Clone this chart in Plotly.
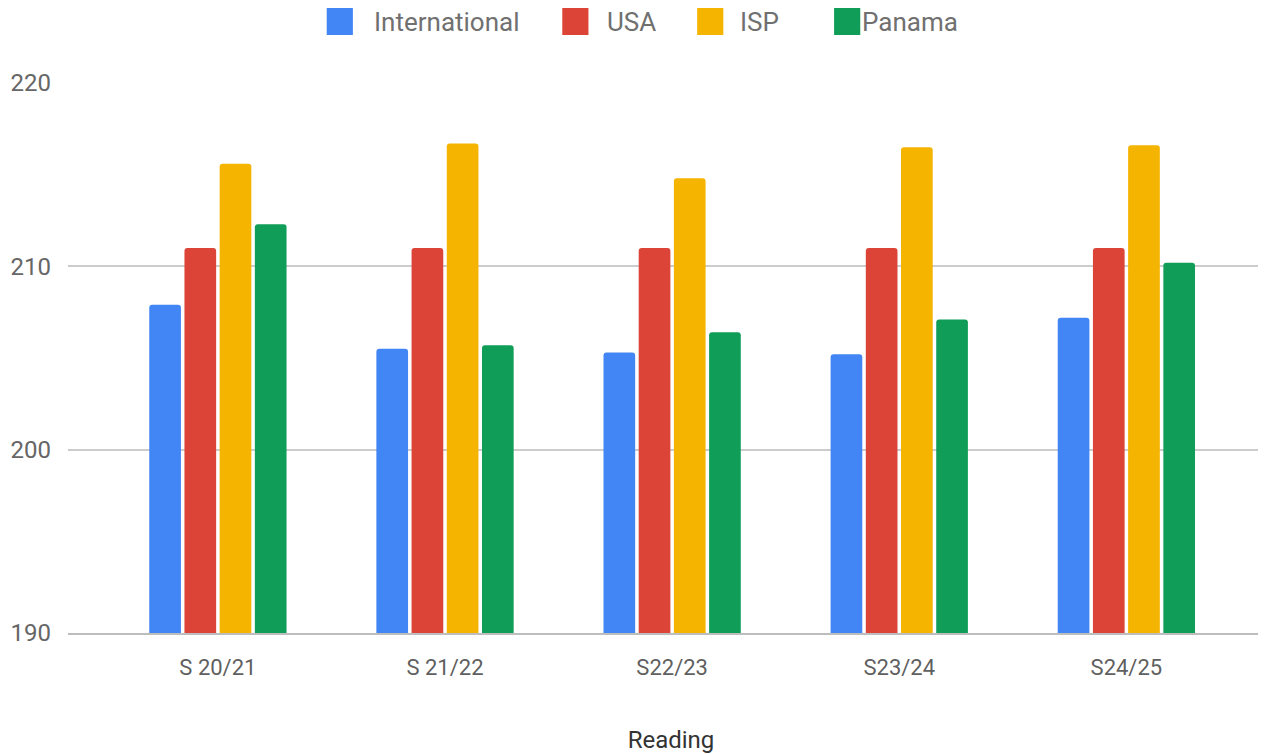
import plotly.graph_objects as go

categories = ["S 20/21", "S 21/22", "S22/23", "S23/24", "S24/25"]
international = [207.9, 205.5, 205.3, 205.2, 207.2]
usa = [211.0, 211.0, 211.0, 211.0, 211.0]
isp = [215.6, 216.7, 214.8, 216.5, 216.6]
panama = [212.3, 205.7, 206.4, 207.1, 210.2]

series_names = ["International", "USA", "ISP", "Panama"]
series_values = [international, usa, isp, panama]
series_colors = ["#4285F4", "#DB4437", "#F4B400", "#0F9D58"]

fig = go.Figure()
for name, vals, color in zip(series_names, series_values, series_colors):
    fig.add_trace(go.Bar(
        x=categories, y=vals, name=name, showlegend=False,
        marker=dict(color=color, cornerradius=3, line=dict(width=0)),
    ))

# Custom legend (page px -> paper coords)
PX0, PW, PY0, PH = 68.0, 1198.0, 633.0, 550.0
def px(X):
    return (X - PX0) / PW
def py(Y):
    return (PY0 - Y) / PH

legend_sq_left = [325, 559, 693, 829]
legend_text_left = [370, 601, 734, 855]
shapes = []
annotations = []
for name, color, sx, tx in zip(series_names, series_colors, legend_sq_left, legend_text_left):
    x0, x1 = px(sx), px(sx + 26)
    y0, y1 = py(35), py(8)
    shapes.append(dict(type="rect", xref="paper", yref="paper", x0=x0, x1=x1, y0=y0, y1=y1,
                       fillcolor=color, line=dict(width=0), layer="above"))
    annotations.append(dict(text=name, xref="paper", yref="paper", x=px(tx), y=py(22),
                            xanchor="left", yanchor="middle", showarrow=False,
                            font=dict(family="Roboto", size=26, color="#707070")))

fig.update_layout(
    width=1266, height=754,
    paper_bgcolor="white", plot_bgcolor="white",
    font=dict(family="Roboto", color="#5f5f5f", size=22),
    margin=dict(l=60, r=0, t=75, b=129),
    barmode="group", bargap=0.38, bargroupgap=0.1,
    showlegend=False,
    shapes=shapes, annotations=annotations,
    xaxis=dict(
        range=[-0.66, 4.65], showgrid=False, ticks="", showline=True,
        linecolor="#bdbdbd", linewidth=2,
        title=dict(text="Reading", font=dict(size=24, color="#333333"), standoff=52),
        tickfont=dict(size=22, color="#5f5f5f"), ticklabelstandoff=14,
    ),
    yaxis=dict(
        range=[190, 220], tickvals=[190, 200, 210, 220], showgrid=True,
        gridcolor="#cccccc", gridwidth=1.5, zeroline=False, ticks="",
        tickfont=dict(size=24, color="#666666"), ticklabelstandoff=16,
    ),
)

fig.write_html("out.html")
